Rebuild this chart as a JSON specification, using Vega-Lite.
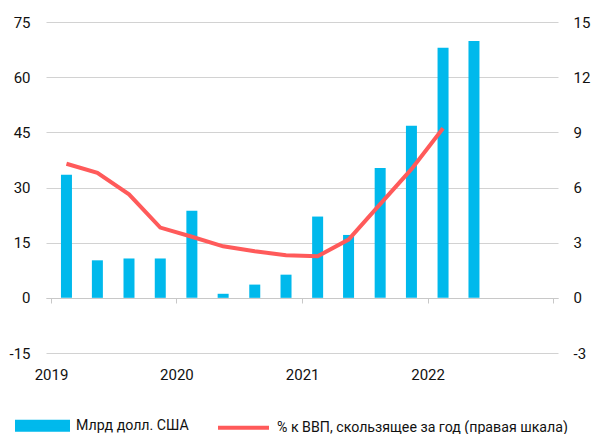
{
  "$schema": "https://vega.github.io/schema/vega-lite/v6.json",
  "width": 512,
  "height": 331,
  "autosize": {"type": "none"},
  "padding": {"left": 46, "top": 22, "right": 37, "bottom": 81},
  "background": "white",
  "config": {
    "view": {"stroke": null},
    "font": "Roboto",
    "axis": {"labelFont": "Roboto", "labelFontSize": 15, "labelColor": "#111111"},
    "legend": {"labelFont": "Roboto", "labelFontSize": 14.2, "labelColor": "#111111", "labelLimit": 0}
  },
  "data": {
    "values": [
      {"date": "2019-02-15", "bn": 33.5, "pct": 7.29},
      {"date": "2019-05-16", "bn": 10.2, "pct": 6.80},
      {"date": "2019-08-16", "bn": 10.7, "pct": 5.63},
      {"date": "2019-11-15", "bn": 10.7, "pct": 3.82},
      {"date": "2020-02-15", "bn": 23.7, "pct": 3.32},
      {"date": "2020-05-16", "bn": 1.1, "pct": 2.80},
      {"date": "2020-08-16", "bn": 3.6, "pct": 2.53},
      {"date": "2020-11-15", "bn": 6.3, "pct": 2.32},
      {"date": "2021-02-15", "bn": 22.1, "pct": 2.26},
      {"date": "2021-05-16", "bn": 17.1, "pct": 3.17},
      {"date": "2021-08-16", "bn": 35.3, "pct": 5.1},
      {"date": "2021-11-15", "bn": 46.8, "pct": 7.0},
      {"date": "2022-02-15", "bn": 68.0, "pct": 9.22},
      {"date": "2022-05-16", "bn": 69.8, "pct": null}
    ]
  },
  "layer": [
    {
      "mark": {"type": "bar", "size": 11},
      "encoding": {
        "x": {
          "field": "date", "type": "temporal",
          "scale": {"type": "utc", "domain": [{"year": 2019, "month": 1, "date": 1, "utc": true}, {"year": 2023, "month": 1, "date": 1, "utc": true}]},
          "axis": {
            "title": null, "orient": "bottom", "offset": -55,
            "values": [
              {"year": 2019, "month": 1, "date": 1, "utc": true},
              {"year": 2020, "month": 1, "date": 1, "utc": true},
              {"year": 2021, "month": 1, "date": 1, "utc": true},
              {"year": 2022, "month": 1, "date": 1, "utc": true},
              {"year": 2023, "month": 1, "date": 1, "utc": true}
            ],
            "format": "%Y", "labelExpr": "datum.label == '2023' ? '' : datum.label",
            "grid": false, "domainColor": "#c8c8c8", "tickColor": "#c8c8c8", "tickSize": 5,
            "labelFlush": false, "labelPadding": 64, "labelDx": 5
          }
        },
        "y": {
          "field": "bn", "type": "quantitative",
          "scale": {"domain": [-15, 75], "nice": false, "zero": false},
          "axis": {
            "title": null, "values": [-15, 0, 15, 30, 45, 60, 75], "domain": false, "ticks": false,
            "labelExpr": "replace(datum.label, '−', '-')",
            "grid": true, "gridColor": "#d2d2d2", "labelPadding": 16
          }
        },
        "color": {
          "datum": "Млрд долл. США", "type": "nominal",
          "scale": {"domain": ["Млрд долл. США", "% к ВВП, скользящее за год (правая шкала)"], "range": ["#00b9ec", "#ff5a5a"]},
          "legend": {
            "title": null, "orient": "none", "direction": "horizontal",
            "legendX": -31, "legendY": 376,
            "labelOffset": 6, "columnPadding": 21, "symbolSize": 2601,
            "symbolStrokeWidth": 4, "padding": 0, "labelLimit": 0,
            "encode": {
              "symbols": {
                "update": {
                  "shape": {"signal": "datum.value === 'Млрд долл. США' ? 'M-1,-0.157H1V0.157H-1Z' : 'stroke'"},
                  "fill": {"signal": "datum.value === 'Млрд долл. США' ? '#00b9ec' : 'transparent'"},
                  "stroke": {"signal": "datum.value === 'Млрд долл. США' ? 'transparent' : '#ff5a5a'"},
                  "strokeWidth": {"value": 4},
                  "opacity": {"value": 1}
                }
              }
            }
          }
        }
      }
    },
    {
      "transform": [{"filter": "datum.pct != null"}],
      "mark": {"type": "line", "strokeWidth": 4},
      "encoding": {
        "x": {"field": "date", "type": "temporal"},
        "y": {
          "field": "pct", "type": "quantitative",
          "scale": {"domain": [-3, 15], "nice": false, "zero": false},
          "axis": {
            "title": null, "orient": "right", "values": [-3, 0, 3, 6, 9, 12, 15], "domain": false, "ticks": false,
            "labelExpr": "replace(datum.label, '−', '-')",
            "grid": false, "labelPadding": 15
          }
        },
        "color": {"datum": "% к ВВП, скользящее за год (правая шкала)", "type": "nominal"}
      }
    }
  ],
  "resolve": {"scale": {"y": "independent"}}
}
